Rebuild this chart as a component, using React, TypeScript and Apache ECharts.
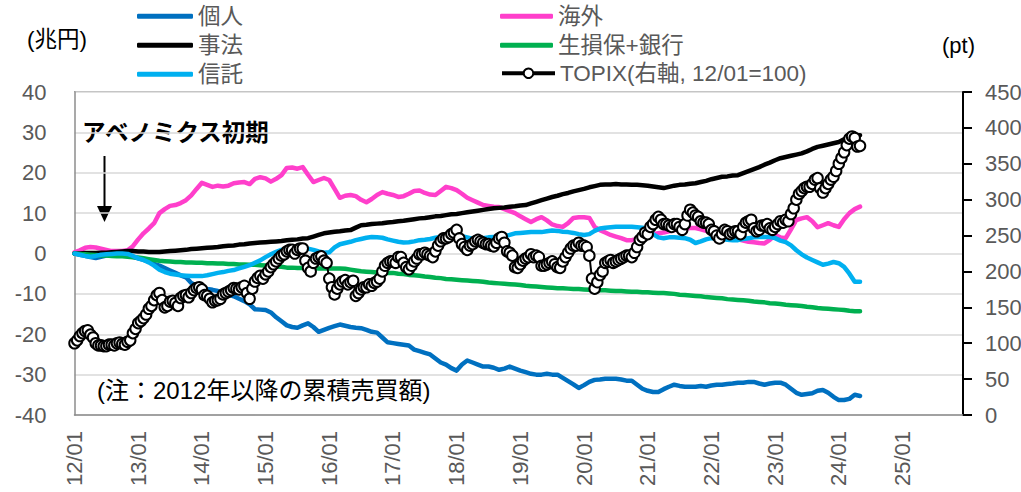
import React, { useEffect, useRef } from "react";
import * as echarts from "echarts";

const FONT = "'Liberation Sans', Arial, 'Noto Sans CJK JP', sans-serif";

// x tick labels (every 12 months from 2012/01)
const xTickLabels = ["12/01", "13/01", "14/01", "15/01", "16/01", "17/01", "18/01", "19/01", "20/01", "21/01", "22/01", "23/01", "24/01", "25/01"];

// monthly data, 2012/01 .. 2024/05 (兆円, cumulative)
const kojin = [
  0, -0.3, -0.6, -0.9, -1.1, -0.8, -0.5, -0.4, -0.4, -0.4, -0.5, -0.8,
  -1.2, -1.6, -2.0, -2.6, -3.0, -3.6, -4.2, -4.8, -5.4, -5.9, -7.3, -8.0,
  -8.5, -8.8, -9.0, -9.3, -9.8, -10.2, -10.6, -11.2, -11.8, -12.6, -13.8, -13.9,
  -14.0, -14.6, -15.8, -16.8, -17.8, -18.2, -18.4, -17.8, -17.3, -18.2, -19.4, -18.9,
  -18.4, -18.0, -17.6, -17.9, -18.2, -18.4, -18.5, -18.9, -19.4, -19.6, -20.8, -22.0,
  -22.2, -22.4, -22.6, -22.8, -23.8, -24.2, -24.6, -25.0, -26.0, -27.0, -27.5, -28.4,
  -29.0, -27.5, -26.5, -27.0, -27.5, -28.0, -28.0, -28.3, -28.8, -28.5, -28.0, -28.5,
  -29.0, -29.4, -29.8, -30.0, -30.0, -29.8, -30.0, -30.0, -30.8, -31.6, -32.4, -33.3,
  -32.6, -31.8, -31.3, -31.2, -31.0, -31.0, -31.0, -31.2, -31.5, -31.5, -32.5, -33.5,
  -34.0, -34.3, -34.3, -33.6, -33.0, -32.5, -32.8, -33.0, -33.0, -33.0, -32.8, -33.0,
  -32.7, -32.5, -32.5, -32.3, -32.2, -32.0, -32.0, -31.8, -31.8, -32.2, -32.5, -32.2,
  -32.0, -32.0, -32.5, -33.5, -34.5, -35.0, -34.8, -34.6, -34.0, -33.8, -34.5, -35.5,
  -36.3, -36.3, -36.0, -35.0, -35.3,
];

const kaigai = [
  0.3, 0.8, 1.4, 1.6, 1.5, 1.2, 0.9, 0.6, 0.6, 0.6, 0.8, 1.8,
  3.5, 5.0, 6.2, 7.5, 10.0, 11.0, 11.8, 12.0, 12.5, 13.2, 14.4, 16.0,
  17.5, 17.0, 16.5, 16.8, 16.6, 16.8, 17.4, 17.6, 17.7, 17.2, 18.5, 18.9,
  18.6, 17.8, 18.5, 19.4, 21.2, 21.3, 21.0, 21.4, 19.5, 17.7, 18.2, 18.7,
  18.2, 16.0, 13.8, 14.3, 14.5, 14.2, 13.3, 12.7, 13.5, 14.5, 15.2, 14.8,
  14.5, 14.0, 14.2, 14.8, 15.5, 15.6, 15.0, 14.6, 14.5, 15.5, 16.5, 16.2,
  15.7, 14.8, 13.8, 13.2, 12.6, 12.0, 11.8, 11.6, 11.5, 11.0, 10.5, 10.0,
  9.2, 8.5, 7.8, 8.5, 9.0, 8.2, 7.2, 6.8, 6.6, 7.5, 8.8, 9.0,
  9.0, 8.8, 6.6, 5.8, 5.2, 4.6, 4.2, 3.8, 3.3, 3.3, 3.6, 4.0,
  4.5, 4.8, 5.0, 5.2, 5.5, 5.8, 6.0, 6.2, 6.3, 6.3, 6.0, 5.6,
  5.2, 4.8, 4.5, 4.2, 3.8, 3.5, 3.2, 2.9, 2.8, 2.6, 2.5, 3.4,
  4.6, 4.0, 3.8, 6.0, 8.3, 8.7, 9.0, 8.0, 6.5, 7.0, 7.5, 7.0,
  6.6, 8.5, 10.0, 11.0, 11.6,
];

const jiho = [
  0, 0.0, 0.1, 0.1, 0.1, 0.2, 0.2, 0.3, 0.4, 0.5, 0.6, 0.6,
  0.5, 0.5, 0.4, 0.4, 0.4, 0.5, 0.6, 0.7, 0.8, 0.9, 1.1, 1.2,
  1.3, 1.4, 1.5, 1.6, 1.8, 1.9, 2.0, 2.2, 2.3, 2.5, 2.6, 2.7,
  2.8, 2.9, 3.0, 3.1, 3.3, 3.4, 3.5, 3.7, 3.8, 4.2, 4.6, 5.0,
  5.2, 5.4, 5.5, 5.7, 5.8, 6.4, 7.0, 7.1, 7.3, 7.4, 7.5, 7.7,
  7.8, 8.0, 8.1, 8.3, 8.5, 8.7, 8.8, 9.0, 9.2, 9.3, 9.5, 9.7,
  9.8, 10.0, 10.2, 10.4, 10.6, 10.8, 11.0, 11.2, 11.3, 11.4, 11.6, 11.7,
  11.9, 12.0, 12.4, 12.8, 13.2, 13.6, 14.0, 14.3, 14.7, 15.0, 15.4, 15.7,
  16.0, 16.4, 16.7, 17.0, 17.1, 17.1, 17.2, 17.1, 17.1, 17.0, 17.0, 16.9,
  16.8, 16.6, 16.4, 16.2, 16.5, 16.8, 17.0, 17.1, 17.3, 17.4, 17.7, 18.0,
  18.4, 18.7, 19.0, 19.1, 19.3, 19.4, 19.9, 20.4, 20.9, 21.4, 22.0, 22.5,
  23.1, 23.6, 23.9, 24.2, 24.5, 24.8, 25.3, 25.9, 26.4, 26.7, 27.0, 27.3,
  27.6, 28.3, 29.0, 29.2, 29.3,
];

const seisonGinko = [
  0, -0.1, -0.2, -0.3, -0.4, -0.5, -0.5, -0.6, -0.7, -0.7, -0.8, -0.9,
  -1.0, -1.2, -1.4, -1.6, -1.8, -1.9, -2.0, -2.1, -2.1, -2.2, -2.2, -2.3,
  -2.3, -2.4, -2.4, -2.5, -2.5, -2.6, -2.6, -2.7, -2.7, -2.8, -2.8, -2.9,
  -3.0, -3.1, -3.2, -3.3, -3.5, -3.5, -3.6, -3.6, -3.6, -3.6, -3.7, -3.7,
  -3.7, -3.7, -3.7, -3.8, -4.0, -4.2, -4.4, -4.5, -4.6, -4.7, -4.7, -4.8,
  -4.8, -5.0, -5.1, -5.3, -5.4, -5.5, -5.7, -5.8, -6.0, -6.1, -6.3, -6.4,
  -6.5, -6.6, -6.7, -6.8, -6.9, -7.0, -7.2, -7.3, -7.4, -7.5, -7.6, -7.7,
  -7.8, -8.0, -8.1, -8.2, -8.3, -8.4, -8.5, -8.6, -8.6, -8.7, -8.8, -8.8,
  -8.9, -9.0, -9.0, -9.1, -9.1, -9.2, -9.3, -9.3, -9.4, -9.5, -9.5, -9.6,
  -9.6, -9.7, -9.8, -9.8, -9.9, -10.0, -10.2, -10.3, -10.4, -10.5, -10.6, -10.8,
  -10.9, -11.0, -11.1, -11.3, -11.4, -11.5, -11.6, -11.7, -11.9, -12.0, -12.1, -12.3,
  -12.4, -12.5, -12.7, -12.8, -12.9, -13.0, -13.2, -13.3, -13.5, -13.6, -13.7, -13.8,
  -13.9, -14.0, -14.2, -14.3, -14.3,
];

const shintaku = [
  0, -0.3, -0.6, -0.8, -0.6, -0.3, -0.2, -0.1, 0.0, 0.0, -0.1, -0.6,
  -1.2, -1.6, -2.2, -3.0, -4.0, -4.6, -5.0, -5.2, -5.4, -5.5, -5.6, -5.6,
  -5.6, -5.4, -5.1, -4.8, -4.6, -4.3, -4.1, -3.7, -3.3, -2.9, -2.3, -1.7,
  -0.9, -0.2, 0.4, 0.9, 1.2, 1.4, 1.6, 1.5, 1.2, 0.9, 0.5, 0.2,
  0.3, 1.5, 2.3, 2.6, 2.9, 3.3, 3.6, 3.9, 4.1, 4.0, 3.9, 3.5,
  3.2, 2.9, 2.7, 2.8, 3.0, 3.3, 3.4, 3.6, 3.9, 4.1, 4.3, 4.5,
  4.6, 4.3, 4.0, 3.6, 3.4, 3.8, 4.0, 4.1, 4.1, 4.3, 4.6, 5.0,
  5.1, 5.2, 5.3, 5.3, 5.3, 5.5, 5.7, 5.6, 5.4, 5.3, 5.1, 4.8,
  4.6, 4.8, 5.6, 6.2, 6.4, 6.5, 6.6, 6.6, 6.6, 6.6, 6.5, 6.4,
  5.8, 4.8, 4.0, 3.8, 4.0, 4.0, 3.9, 3.8, 3.4, 2.6, 3.0, 3.5,
  3.8, 3.8, 3.6, 3.4, 3.3, 3.3, 3.6, 3.8, 4.0, 4.1, 4.1, 4.1,
  3.8, 3.2, 2.8, 2.0, 0.8, -0.2, -1.0, -1.6, -2.2, -2.8, -2.5, -2.1,
  -2.4, -3.3, -5.0, -7.0, -7.0,
];

// TOPIX, 2012/01 = 100 (right axis), twice a month (start, mid) 2012/01 .. 2024/05
const topix = [
  100, 104, 110, 114, 117, 118, 112, 108, 100, 97, 97, 96,
  96, 98, 98, 97, 100, 101, 99, 98, 102, 104, 114, 120,
  128, 131, 135, 140, 148, 152, 160, 167, 170, 160, 150, 152,
  158, 159, 156, 152, 163, 166, 167, 164, 170, 174, 177, 178,
  175, 167, 166, 162, 157, 159, 160, 162, 168, 170, 172, 174,
  177, 176, 175, 178, 180, 170, 162, 176, 186, 191, 194, 190,
  196, 200, 206, 210, 214, 218, 222, 224, 228, 230, 230, 225,
  230, 232, 232, 215, 205, 200, 212, 218, 220, 221, 215, 212,
  190, 178, 168, 176, 182, 186, 188, 182, 185, 187, 166, 170,
  175, 178, 178, 182, 180, 184, 186, 190, 200, 208, 212, 214,
  214, 212, 220, 220, 212, 206, 203, 208, 214, 218, 224, 224,
  226, 224, 222, 220, 228, 236, 242, 246, 246, 248, 252, 254,
  258, 246, 238, 234, 230, 236, 238, 242, 244, 242, 240, 238,
  238, 236, 235, 240, 246, 248, 240, 228, 226, 222, 206, 205,
  210, 215, 218, 220, 224, 220, 222, 220, 208, 208, 210, 212,
  214, 210, 206, 205, 214, 220, 226, 232, 236, 236, 240, 236,
  236, 234, 222, 190, 176, 185, 195, 200, 212, 214, 216, 212,
  214, 216, 218, 220, 222, 222, 220, 226, 234, 244, 248, 254,
  252, 262, 266, 272, 276, 272, 266, 266, 264, 262, 266, 266,
  262, 258, 266, 278, 286, 282, 278, 276, 270, 268, 268, 266,
  258, 256, 250, 246, 252, 258, 256, 252, 254, 256, 256, 252,
  262, 268, 270, 272, 260, 256, 258, 264, 264, 266, 260, 258,
  262, 266, 270, 268, 272, 270, 280, 288, 300, 308, 312, 316,
  318, 318, 322, 328, 330, 316, 310, 316, 322, 328, 332, 340,
  350, 358, 366, 376, 385, 388, 386, 374, 375,
];

const NAMES = ["個人", "海外", "事法", "生損保+銀行", "信託", "TOPIX(右軸, 12/01=100)"];
const COLORS = ["#0070C0", "#FF3FCB", "#000000", "#00B050", "#00B0F0", "#000000"];

const toXY = (arr: number[], step = 1) => arr.map((v, i) => [i * step, v]);

export default function App() {
  const ref = useRef<HTMLDivElement>(null);
  useEffect(() => {
    document.body.style.margin = "0";
    const chart = echarts.init(ref.current!, null, { renderer: "svg" });
    const lineSeries = (name: string, data: number[], color: string) => ({
      name,
      type: "line",
      data: toXY(data),
      yAxisIndex: 0,
      symbol: "none",
      showSymbol: false,
      color,
      lineStyle: { color, width: 4.5, join: "round", cap: "round" },
      emphasis: { disabled: true },
      silent: true,
    });
    const legendText = { fontSize: 22.5, color: "#595959", fontFamily: FONT, lineHeight: 22 };
    chart.setOption({
      animation: false,
      textStyle: { fontFamily: FONT },
      grid: { left: 74.5, right: 58, top: 92, bottom: 77, outerBoundsMode: "none", show: false },
      legend: [
        {
          left: 137, top: 5, orient: "vertical", padding: 0, itemWidth: 56, itemHeight: 5, itemGap: 6.5,
          selectedMode: false, textStyle: legendText,
          data: [{ name: NAMES[0], icon: "roundRect" }, { name: NAMES[2], icon: "roundRect" }, { name: NAMES[4], icon: "roundRect" }],
        },
        {
          left: 500, top: 5, orient: "vertical", padding: 0, itemWidth: 53, itemHeight: 5, itemGap: 6.5,
          selectedMode: false, textStyle: legendText,
          data: [{ name: NAMES[1], icon: "roundRect" }, { name: NAMES[3], icon: "roundRect" }],
        },
        {
          left: 500, top: 62, orient: "vertical", padding: 0, itemWidth: 53, itemHeight: 12,
          selectedMode: false, textStyle: legendText, lineStyle: { width: 4 },
          data: [{ name: NAMES[5] }],
        },
      ],
      xAxis: {
        type: "value",
        min: 0,
        max: 167.4,
        interval: 12,
        axisLine: { show: true, onZero: false, lineStyle: { color: "#8c8c8c", width: 1.5 } },
        axisTick: { show: false },
        splitLine: { show: false },
        axisLabel: {
          rotate: 90,
          margin: 16,
          fontSize: 22,
          color: "#595959",
          fontFamily: FONT,
          showMaxLabel: false,
          formatter: (v: number) => (Math.abs(v % 12) < 1e-6 ? xTickLabels[Math.round(v / 12)] ?? "" : ""),
        },
      },
      yAxis: [
        {
          type: "value",
          min: -40,
          max: 40,
          interval: 10,
          position: "left",
          axisLine: { show: true, lineStyle: { color: "#8c8c8c", width: 1.5 } },
          axisTick: { show: false },
          splitLine: { show: true, lineStyle: { color: "#d9d9d9", width: 1.5 } },
          axisLabel: { fontSize: 22, color: "#595959", margin: 28, fontFamily: FONT },
        },
        {
          type: "value",
          min: 0,
          max: 450,
          interval: 50,
          position: "right",
          axisLine: { show: true, lineStyle: { color: "#000", width: 2 } },
          axisTick: { show: true, inside: false, length: 9, lineStyle: { color: "#000", width: 2 } },
          splitLine: { show: false },
          axisLabel: { fontSize: 22, color: "#595959", margin: 22, fontFamily: FONT },
        },
      ],
      series: [
        lineSeries(NAMES[0], kojin, COLORS[0]),
        lineSeries(NAMES[1], kaigai, COLORS[1]),
        lineSeries(NAMES[2], jiho, COLORS[2]),
        lineSeries(NAMES[3], seisonGinko, COLORS[3]),
        lineSeries(NAMES[4], shintaku, COLORS[4]),
        {
          name: NAMES[5],
          type: "line",
          yAxisIndex: 1,
          data: toXY(topix, 0.5),
          symbol: "emptyCircle",
          symbolSize: 10.5,
          showSymbol: true,
          showAllSymbol: true,
          color: "#000",
          itemStyle: { color: "#000", borderColor: "#000", borderWidth: 1.5 },
          lineStyle: { color: "#000", width: 2 },
          emphasis: { disabled: true },
          silent: true,
          z: 5,
        },
      ],
      graphic: [
        { type: "rect", left: 74, top: 91, shape: { width: 889, height: 1 }, style: { fill: "#8c8c8c" }, silent: true },
        { type: "text", left: 27, top: 28, style: { text: "(兆円)", fontSize: 22.5, fill: "#000", fontFamily: FONT } },
        { type: "text", left: 942, top: 34, style: { text: "(pt)", fontSize: 22, fill: "#000", fontFamily: FONT } },
        { type: "text", left: 82, top: 119, style: { text: "アベノミクス初期", fontSize: 23.5, fontWeight: "bold", fill: "#000", fontFamily: "'Noto Sans CJK JP', sans-serif" } },
        { type: "line", shape: { x1: 104.5, y1: 156, x2: 104.5, y2: 208 }, style: { stroke: "#000", lineWidth: 2 } },
        { type: "polygon", shape: { points: [[97, 206], [112, 206], [104.5, 222]] }, style: { fill: "#000" } },
        { type: "text", left: 97, top: 378, style: { text: "(注：2012年以降の累積売買額)", fontSize: 24, fill: "#000", fontFamily: FONT } },
      ],
    });
    return () => chart.dispose();
  }, []);
  return <div ref={ref} style={{ width: 1021, height: 492 }} />;
}
